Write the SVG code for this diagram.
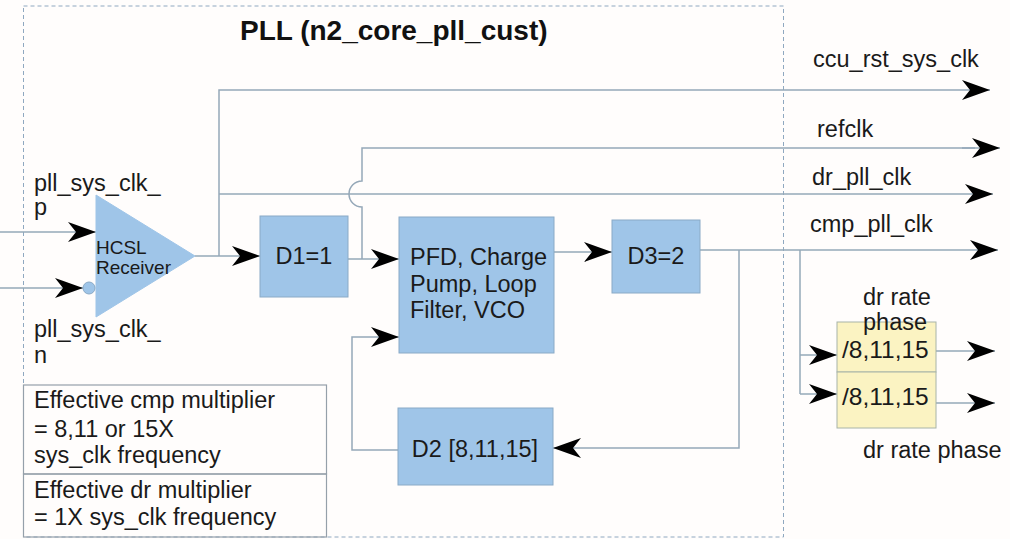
<svg xmlns="http://www.w3.org/2000/svg" width="1010" height="539" viewBox="0 0 1010 539">
<defs>
<marker id="ah" viewBox="0 0 28 20" refX="28" refY="10" markerWidth="28" markerHeight="20" markerUnits="userSpaceOnUse" orient="auto">
<path d="M0,0 L28,10 L0,20 L8,10 Z" fill="#000"/>
</marker>
</defs>
<style>
.t{font-family:"Liberation Sans",Arial,sans-serif;font-size:23.5px;fill:#1a1a1a}
.title{font-family:"Liberation Sans",Arial,sans-serif;font-size:28px;font-weight:bold;fill:#111}
.blk{fill:#9fc5e8;stroke:#8aaac6;stroke-width:1}
.yel{fill:#fbf3c2;stroke:#a8b4a8;stroke-width:1}
.w{fill:none;stroke:#95a8b8;stroke-width:1.5}
.a{fill:none;stroke:#95a8b8;stroke-width:1.5;marker-end:url(#ah)}
.box{fill:none;stroke:#95a0aa;stroke-width:1.2}
</style>
<rect width="1010" height="539" fill="#fffdfc"/>
<rect id="pll-boundary" x="23.5" y="6" width="760" height="531" fill="none" stroke="#8fa8c0" stroke-width="1" stroke-dasharray="4,3"/>
<text class="title" x="240" y="40">PLL (n2_core_pll_cust)</text>

<g id="connectors">
<path class="a" d="M219,256 L219,90 L990,90"/>
<path class="a" d="M219,194 L993,194"/>
<path class="a" d="M0,232 L96,232"/>
<path class="a" d="M0,288 L83,288"/>
<path class="a" d="M195,256 L260,256"/>
<path class="a" d="M348,259 L399,259"/>
<path class="w" d="M362,259 L362,207 A13,13 0 0 1 362,181 L362,148 L975,148"/>
<path class="a" d="M962,148 L1000,148"/>
<path class="a" d="M554,252 L612,252"/>
<path class="a" d="M700,250 L998,250"/>
<path class="a" d="M739,250 L739,448 L553,448"/>
<path class="a" d="M398,450 L352,450 L352,337 L399,337"/>
<path class="w" d="M800,250 L800,394"/>
<path class="a" d="M800,355 L837,355"/>
<path class="a" d="M800,394 L837,394"/>
<path class="a" d="M936,351 L995,351"/>
<path class="a" d="M936,403 L995,403"/>
</g>

<g id="hcsl-receiver">
<polygon points="96,195 195,256 96,317" fill="#9fc5e8" stroke="#9fc5e8"/>
<circle cx="89" cy="288" r="6" fill="#9fc5e8" stroke="#8aaac6" stroke-width="1"/>
<text class="t" x="96" y="254" style="font-size:19px">HCSL</text>
<text class="t" x="96" y="274" style="font-size:19px">Receiver</text>
</g>

<g id="input-p">
<text class="t" x="34" y="191">pll_sys_clk_</text>
<text class="t" x="34" y="215">p</text>
</g>
<g id="input-n">
<text class="t" x="34" y="337">pll_sys_clk_</text>
<text class="t" x="34" y="363">n</text>
</g>

<g id="d1">
<rect class="blk" x="260" y="216" width="88" height="81"/>
<text class="t" x="304" y="264" text-anchor="middle">D1=1</text>
</g>

<g id="pfd">
<rect class="blk" x="399" y="217" width="155" height="136"/>
<text class="t" x="410" y="265">PFD, Charge</text>
<text class="t" x="410" y="292">Pump, Loop</text>
<text class="t" x="410" y="318">Filter, VCO</text>
</g>

<g id="d3">
<rect class="blk" x="612" y="220" width="88" height="73"/>
<text class="t" x="656" y="264" text-anchor="middle">D3=2</text>
</g>

<g id="d2">
<rect class="blk" x="398" y="408" width="155" height="77"/>
<text class="t" x="475" y="457" text-anchor="middle">D2 [8,11,15]</text>
</g>

<g id="dr-rate-phase-1">
<rect class="yel" x="837" y="322" width="99" height="50"/>
<text class="t" x="842" y="358" style="font-size:24.5px">/8,11,15</text>
<text class="t" x="863" y="305">dr rate</text>
<text class="t" x="863" y="330">phase</text>
</g>
<g id="dr-rate-phase-2">
<rect class="yel" x="837" y="372" width="99" height="56"/>
<text class="t" x="842" y="405" style="font-size:24.5px">/8,11,15</text>
<text class="t" x="863" y="458">dr rate phase</text>
</g>

<g id="outputs">
<text class="t" x="813" y="67">ccu_rst_sys_clk</text>
<text class="t" x="817" y="137">refclk</text>
<text class="t" x="812" y="185">dr_pll_clk</text>
<text class="t" x="810" y="232">cmp_pll_clk</text>
</g>

<g id="notes">
<rect class="box" x="23.5" y="385" width="303" height="89"/>
<rect class="box" x="23.5" y="474" width="303" height="63"/>
<text class="t" x="34" y="408">Effective cmp multiplier</text>
<text class="t" x="34" y="437">= 8,11 or 15X</text>
<text class="t" x="34" y="463">sys_clk frequency</text>
<text class="t" x="34" y="498">Effective dr multiplier</text>
<text class="t" x="34" y="525">= 1X sys_clk frequency</text>
</g>
</svg>
